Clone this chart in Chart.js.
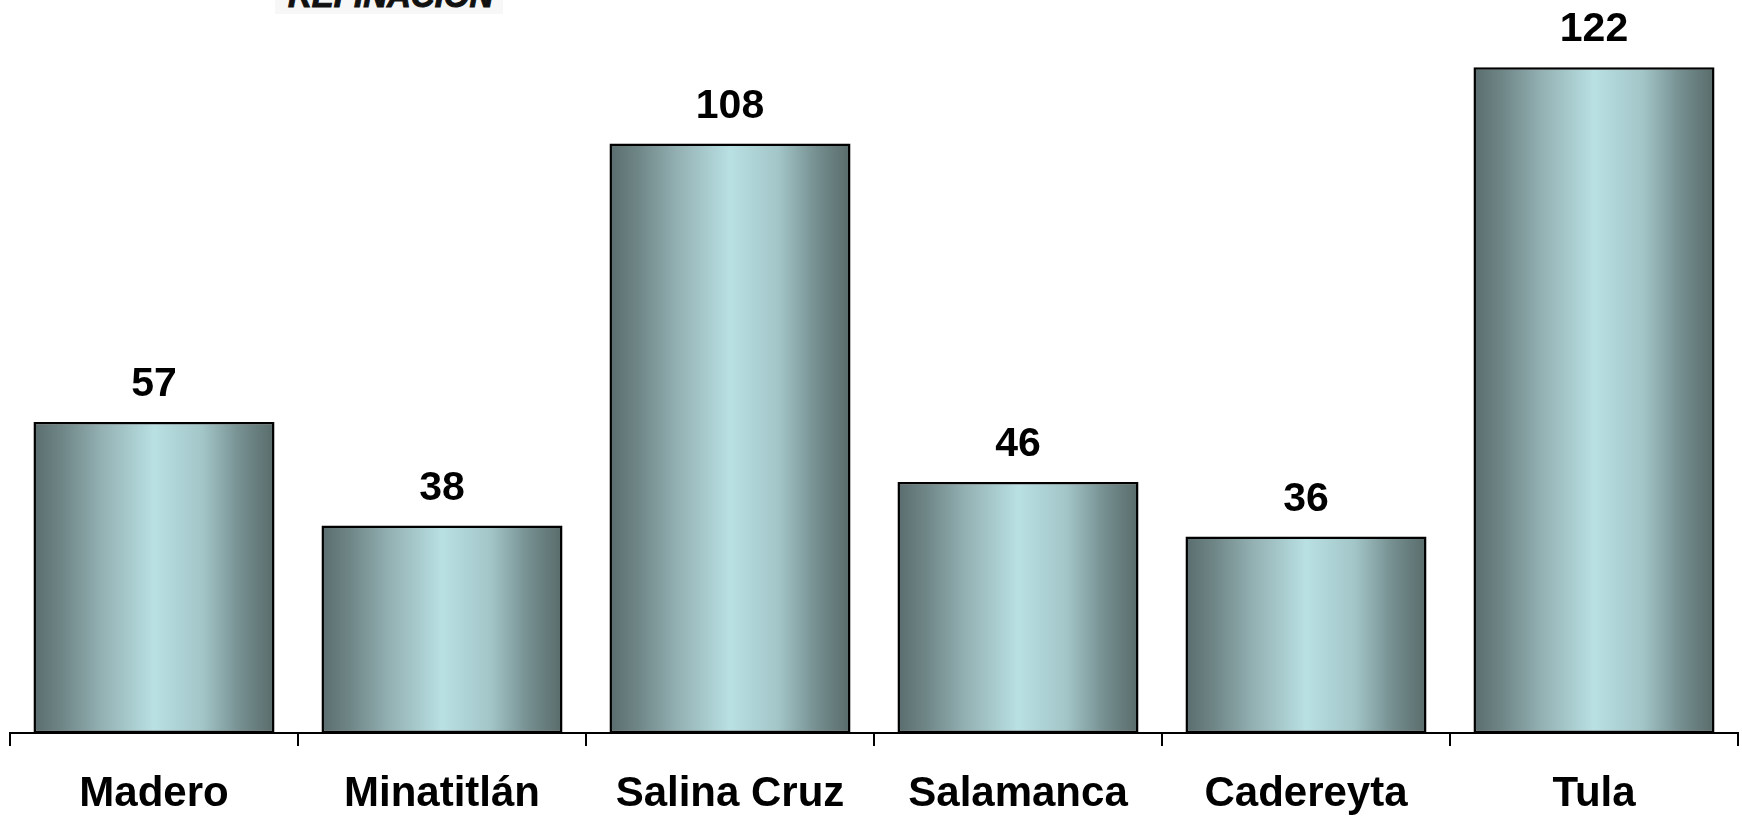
<!doctype html>
<html lang="es">
  <head>
    <meta charset="utf-8">
    <title>Refinerías</title>
    <style>
      * {
        margin: 0;
        padding: 0;
      }
      body {
        width: 1742px;
        height: 816px;
        background: #fff;
        overflow: hidden;
        position: relative;
        font-family: "Liberation Sans", Arial, sans-serif;
      }
      .logo {
        position: absolute;
        left: 275px;
        top: 0;
        width: 228px;
        height: 14px;
        background: #f7f7f7;
        overflow: hidden;
      }
      .logo span {
        position: absolute;
        left: 13px;
        top: -21px;
        font-size: 33px;
        line-height: 33px;
        font-weight: bold;
        font-style: italic;
        color: #111;
        white-space: nowrap;
        -webkit-text-stroke: 1px #111;
      }
      canvas {
        position: absolute;
        left: 0;
        top: 0;
      }
    </style>
  </head>
  <body>
    <div class="logo"><span>REFINACIÓN</span></div>
    <canvas id="myChart" width="1742" height="816"></canvas>
    <script src="https://cdn.jsdelivr.net/npm/chart.js/dist/chart.umd.min.js"></script>
    <script>
    // data
    const refinerias = ['Madero', 'Minatitlán', 'Salina Cruz', 'Salamanca', 'Cadereyta', 'Tula'];
    const valores = [57, 38, 108, 46, 36, 122];

    const barPct = 0.837;

    // metallic gradient across each bar
    function barFill(ctx) {
      const chart = ctx.chart;
      const xs = chart.scales.x;
      if (!xs || !chart.chartArea) return '#9fc4c6';
      const cx = xs.getPixelForValue(ctx.dataIndex);
      const w = (xs.width / refinerias.length) * barPct;
      const g = chart.ctx.createLinearGradient(cx - w / 2, 0, cx + w / 2, 0);
      g.addColorStop(0, '#5a6d6e');
      g.addColorStop(0.12, '#6f8687');
      g.addColorStop(0.28, '#93b0b2');
      g.addColorStop(0.5, '#b9e0e3');
      g.addColorStop(0.7, '#a3c6c8');
      g.addColorStop(0.86, '#758e8f');
      g.addColorStop(1, '#586b6a');
      return g;
    }

    // value labels above the bars
    const valueLabels = {
      id: 'valueLabels',
      afterDatasetsDraw(chart) {
        const c = chart.ctx;
        const meta = chart.getDatasetMeta(0);
        c.save();
        c.font = 'bold 41px "Liberation Sans", Arial, sans-serif';
        c.fillStyle = '#000';
        c.textAlign = 'center';
        c.textBaseline = 'alphabetic';
        meta.data.forEach((bar, i) => {
          c.fillText(valores[i], bar.x, bar.y - 26);
        });
        c.restore();
      }
    };

    const data = {
      labels: refinerias,
      datasets: [{
        data: valores,
        backgroundColor: barFill,
        borderColor: '#000',
        borderWidth: 2.5,
        borderSkipped: false,
        barPercentage: barPct,
        categoryPercentage: 1
      }]
    };

    const config = {
      type: 'bar',
      data,
      plugins: [valueLabels],
      options: {
        responsive: false,
        animation: false,
        devicePixelRatio: 1,
        layout: {
          padding: { left: 10, right: 4, top: 0, bottom: 0 }
        },
        plugins: {
          legend: { display: false },
          tooltip: { enabled: false }
        },
        scales: {
          x: {
            afterFit(scale) { scale.height = 83; },
            border: { display: true, color: '#000', width: 2 },
            grid: {
              display: true,
              drawOnChartArea: false,
              drawTicks: true,
              tickLength: 13,
              color: '#000',
              lineWidth: 2
            },
            ticks: {
              color: '#000',
              padding: 23,
              font: { family: '"Liberation Sans", Arial, sans-serif', size: 42, weight: 'bold' }
            }
          },
          y: {
            display: false,
            min: 0,
            max: 134.3
          }
        }
      }
    };

    const myChart = new Chart(document.getElementById('myChart'), config);
    </script>
  </body>
</html>
